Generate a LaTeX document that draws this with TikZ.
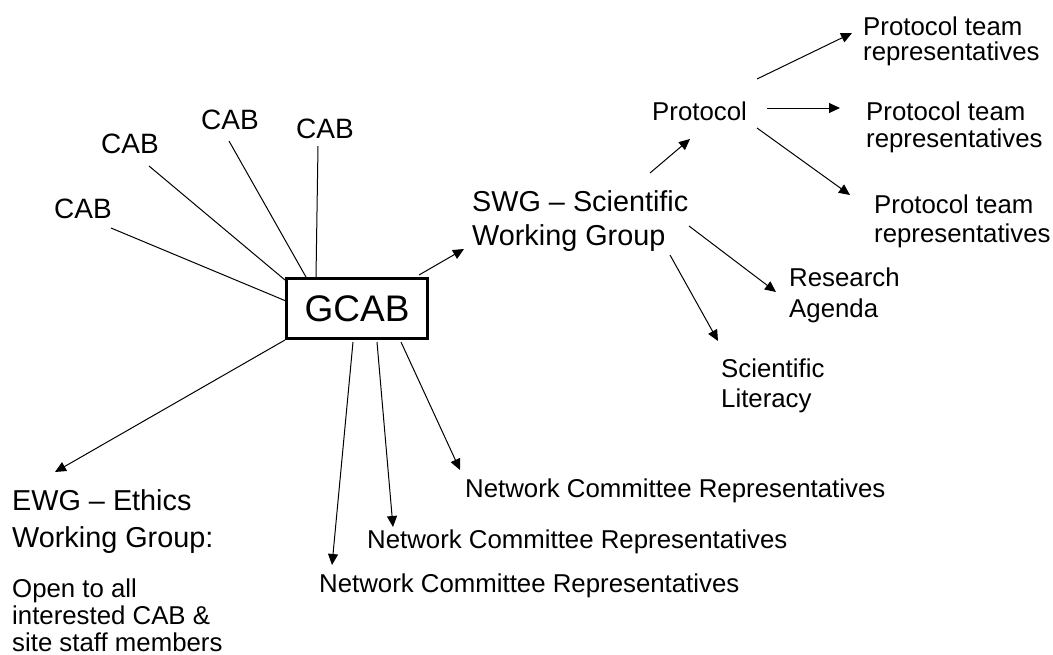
\documentclass[tikz,border=0pt]{standalone}
\usepackage{fontspec}
\setmainfont{Liberation Sans}
\usetikzlibrary{arrows.meta}
\tikzset{
  lbl/.style={inner sep=0pt, anchor=base west, align=left},
  big/.style={font=\fontsize{28.8}{35}\selectfont},
  sm/.style={font=\fontsize{25.8}{26}\selectfont},
  cab/.style={inner sep=0pt, anchor=center, font=\fontsize{28}{30}\selectfont},
  link/.style={line width=1pt},
  arr/.style={line width=1pt, -{Triangle[length=11pt,width=10pt]}},
  boxnode/.style={draw, line width=2.5pt, minimum width=141pt, minimum height=60pt, inner sep=0pt, font=\fontsize{37}{40}\selectfont}
}
\begin{document}
\begin{tikzpicture}[x=1pt,y=-1pt]
\useasboundingbox (0,0) rectangle (1053,654);
% nodes (multi-line labels are placed at the baseline of their last line)
\node[boxnode] (gcab) at (357,308.5) {GCAB};
\node[cab] (cab1) at (83,209) {CAB};
\node[cab] (cab2) at (130,144) {CAB};
\node[cab] (cab3) at (230,120) {CAB};
\node[cab] (cab4) at (325,129) {CAB};
\node[lbl,big] (swg) at (472,245) {SWG -- Scientific\\[-1pt]Working Group};
\node[lbl,big] (ewg) at (12,547) {EWG -- Ethics\\[2pt]Working Group:};
\node[lbl,sm] (open) at (12,651) {Open to all\\[1pt]interested CAB \&\\[1pt]site staff members};
\node[lbl,sm] (prot) at (652,120) {Protocol};
\node[lbl,sm] (pt1) at (863,60) {Protocol team\\[-1pt]representatives};
\node[lbl,sm] (pt2) at (866,147) {Protocol team\\[1pt]representatives};
\node[lbl,sm] (pt3) at (874,242) {Protocol team\\[3pt]representatives};
\node[lbl,sm] (res) at (789,317) {Research\\[5pt]Agenda};
\node[lbl,sm] (lit) at (721,407) {Scientific\\[4pt]Literacy};
\node[lbl,sm] (nc1) at (465,497) {Network Committee Representatives};
\node[lbl,sm] (nc2) at (367,548) {Network Committee Representatives};
\node[lbl,sm] (nc3) at (319,592) {Network Committee Representatives};
% CAB links
\draw[link] ([shift={(28,19)}]cab1.center) -- ([shift={(-71,-7.5)}]gcab.center);
\draw[link] ([shift={(19,22)}]cab2.center) -- ([shift={(-72,-28.5)}]gcab.center);
\draw[link] ([shift={(-1,21)}]cab3.center) -- ([shift={(-51,-31.5)}]gcab.center);
\draw[link] ([shift={(-7,17)}]cab4.center) -- ([shift={(-41,-31.5)}]gcab.center);
% arrows from GCAB
\draw[arr] ([shift={(62,-33.5)}]gcab.center) -- ([shift={(-8,4)}]swg.base west);
\draw[arr] ([shift={(-72,31.5)}]gcab.center) -- ([shift={(43,-75)}]ewg.base west);
\draw[arr] ([shift={(44,33.5)}]gcab.center) -- ([shift={(-5,-27)}]nc1.base west);
\draw[arr] ([shift={(20,33.5)}]gcab.center) -- ([shift={(26,-21)}]nc2.base west);
\draw[arr] ([shift={(-4,33.5)}]gcab.center) -- ([shift={(13,-27)}]nc3.base west);
% arrows from SWG
\draw[arr] ([shift={(178,-72)}]swg.base west) -- ([shift={(38,19)}]prot.base west);
\draw[arr] ([shift={(217,-19)}]swg.base west) -- ([shift={(-13,-25)}]res.base west);
\draw[arr] ([shift={(198,10)}]swg.base west) -- ([shift={(-3,-66)}]lit.base west);
% arrows from Protocol
\draw[arr] ([shift={(105,-41)}]prot.base west) -- ([shift={(-11,-27)}]pt1.base west);
\draw[arr] ([shift={(115,-12)}]prot.base west) -- ([shift={(-26,-39)}]pt2.base west);
\draw[arr] ([shift={(105,8)}]prot.base west) -- ([shift={(-24,-47)}]pt3.base west);
\end{tikzpicture}
\end{document}
